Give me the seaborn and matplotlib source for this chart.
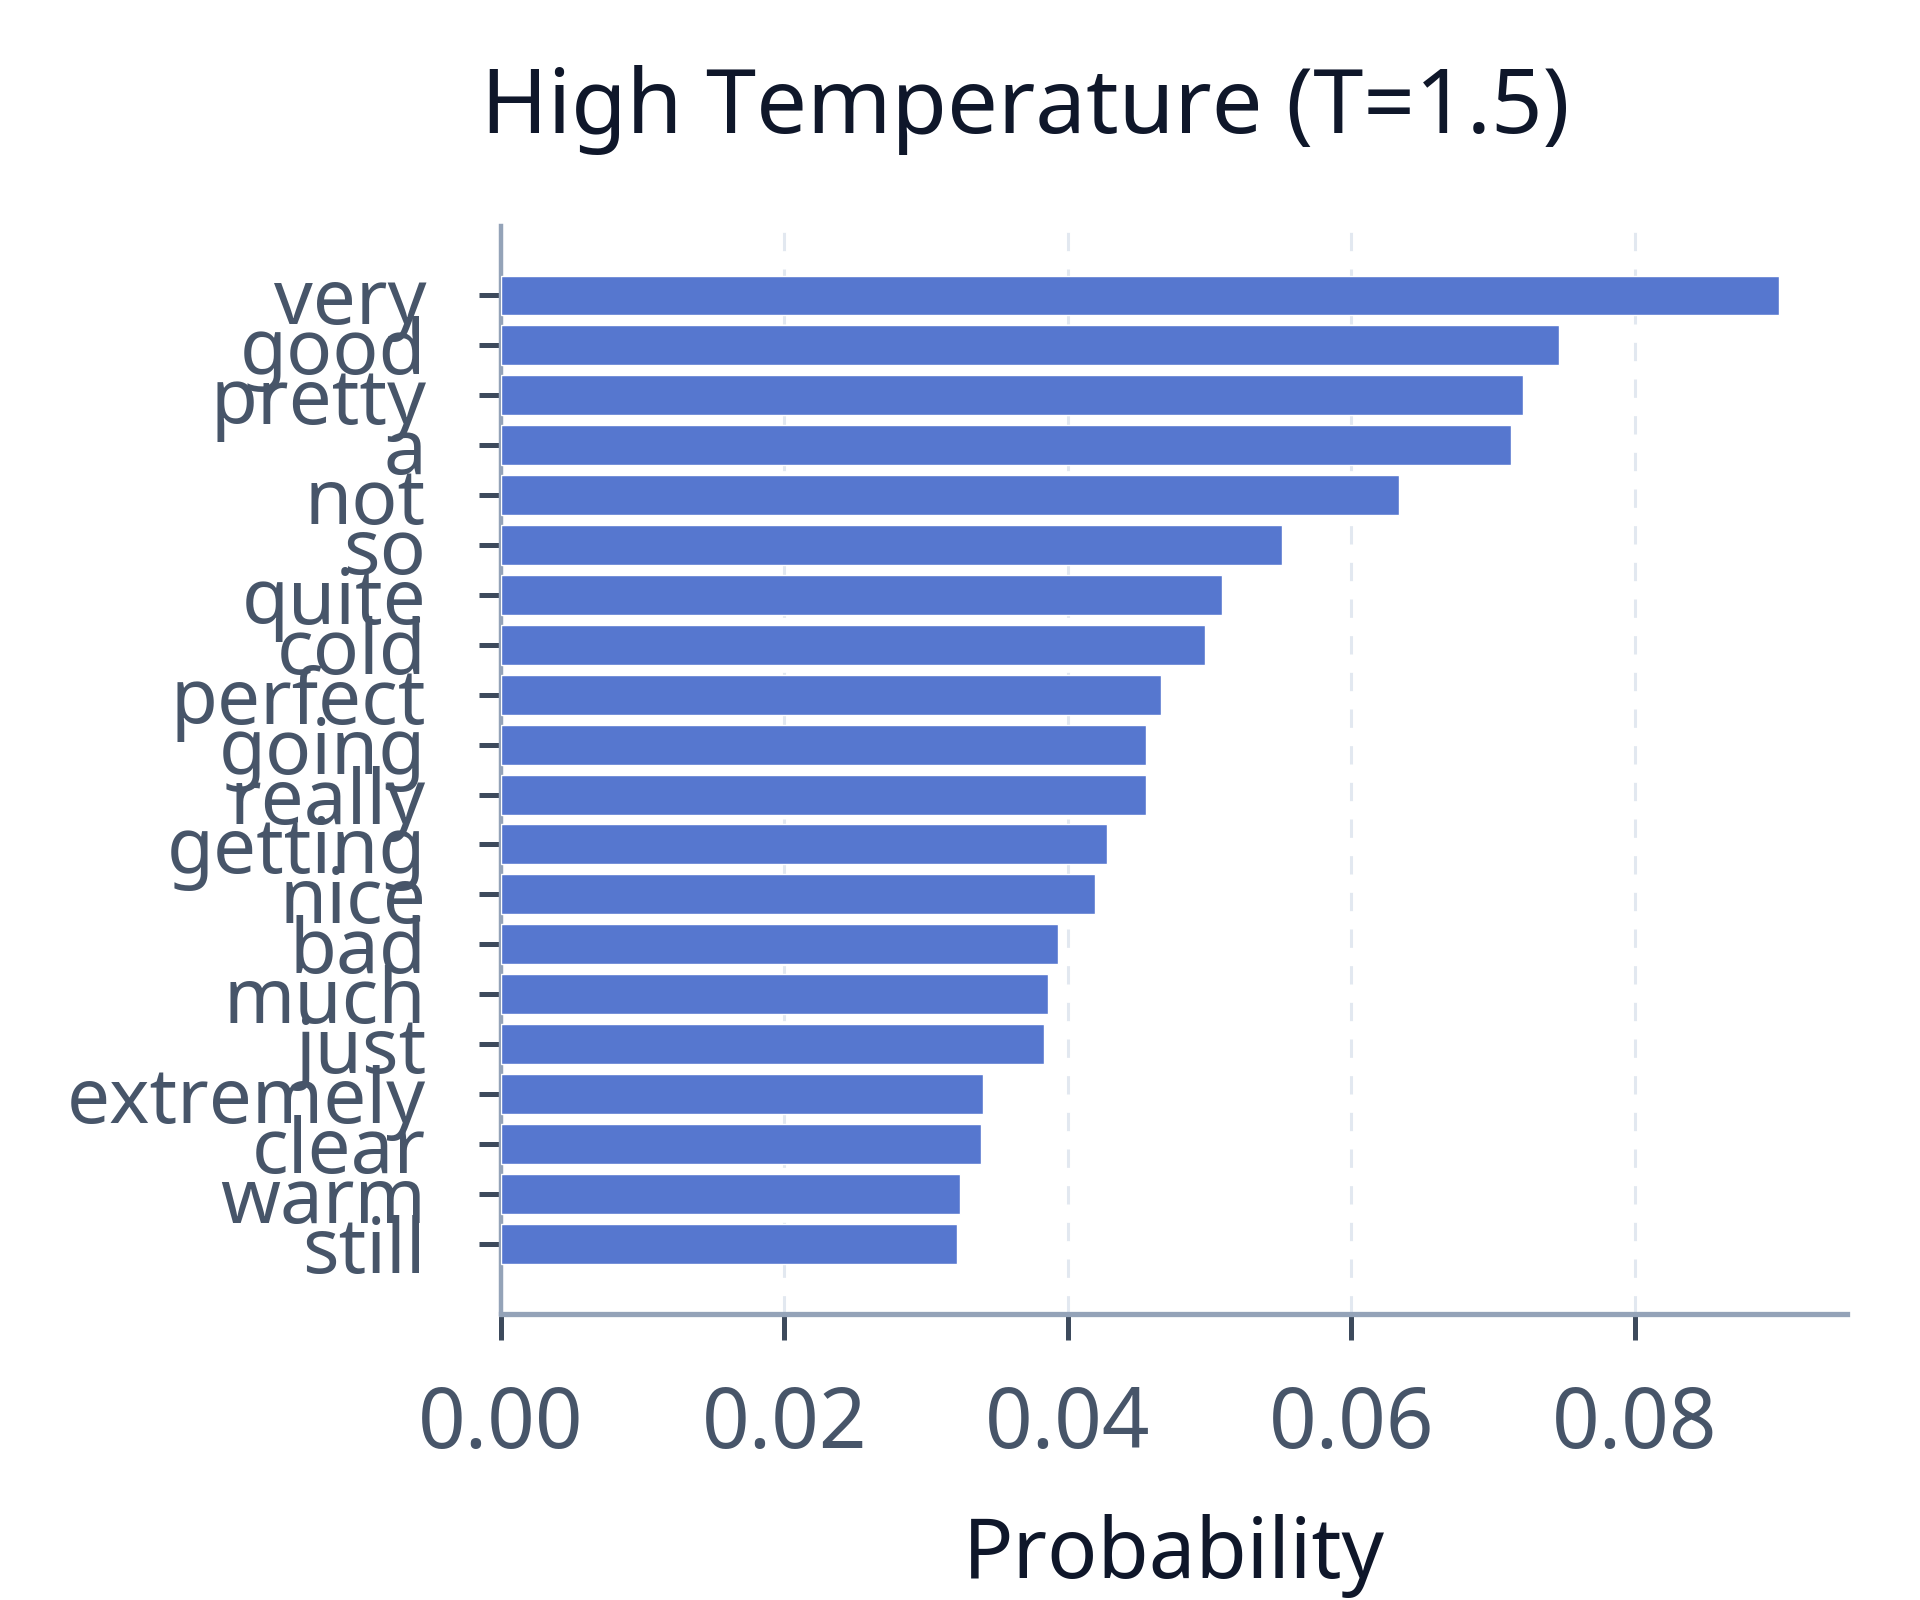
import matplotlib
matplotlib.use("Agg")
import matplotlib.pyplot as plt
import seaborn as sns
import pandas as pd

words = ["very", "good", "pretty", "a", "not", "so", "quite", "cold", "perfect",
         "going", "really", "getting", "nice", "bad", "much", "just", "extremely",
         "clear", "warm", "still"]
probs = [0.0902, 0.0747, 0.0721, 0.0713, 0.0634, 0.0551, 0.0509, 0.0497, 0.0466,
         0.0455, 0.0455, 0.0428, 0.0419, 0.0393, 0.0386, 0.0383, 0.0340,
         0.0339, 0.0324, 0.0322]
xticks = [0.00, 0.02, 0.04, 0.06, 0.08]
xtick_labels = ["0.00", "0.02", "0.04", "0.06", "0.08"]

title = "High Temperature (T=1.5)"
xlabel = "Probability"

sns.set_theme(style="white")
plt.rcParams["font.family"] = ["Noto Sans", "DejaVu Sans"]

df = pd.DataFrame({"word": words, "prob": probs})

fig = plt.figure(figsize=(19.2, 16), dpi=100)
ax = fig.add_axes([0.261, 0.179, 0.701, 0.680])

bar_color = "#5677cf"
sns.barplot(data=df, x="prob", y="word", orient="h", color=bar_color,
            saturation=1, width=0.8, ax=ax, zorder=3)

ax.set_xlim(0, 0.095)
ax.set_ylim(len(words) - 1 + 1.4, -1.4)

ax.set_xticks(xticks)
ax.set_xticklabels(xtick_labels)
ax.grid(False)
for xv in xticks[1:]:
    ax.axvline(xv, color="#e2e8f0", lw=2.2, ls=(0, (6, 6)), zorder=1)

text_color = "#475569"
tick_color = "#3d4a5c"
spine_color = "#94a3b8"

for s in ["top", "right"]:
    ax.spines[s].set_visible(False)
ax.spines["left"].set_color(spine_color)
ax.spines["left"].set_linewidth(3.2)
ax.spines["bottom"].set_color(spine_color)
ax.spines["bottom"].set_linewidth(3.8)

ax.tick_params(axis="x", which="major", direction="out", length=19, width=3.6,
               color=tick_color, labelcolor=text_color, labelsize=60, pad=32,
               bottom=True)
ax.tick_params(axis="y", which="major", direction="out", length=16, width=3.6,
               color=tick_color, labelcolor=text_color, labelsize=55, pad=38,
               left=True)

ax.set_ylabel("")
ax.set_xlabel(xlabel, fontsize=60, color="#0f172a")
ax.xaxis.set_label_coords(0.5, -0.184)

fig.text(0.534, 0.917, title, fontsize=65, color="#0f172a",
         ha="center", va="baseline")

fig.savefig("out.png", dpi=100, facecolor="white")
